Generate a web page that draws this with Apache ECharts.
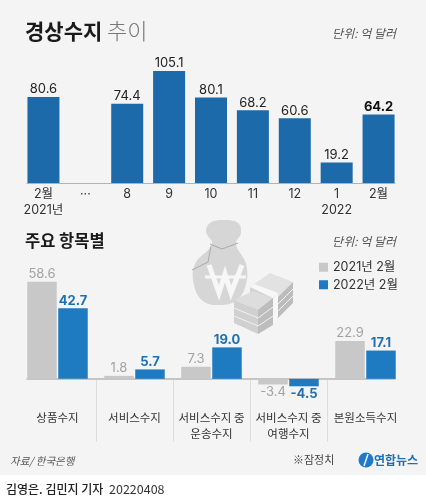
<!DOCTYPE html>
<html>
<head>
<meta charset="utf-8">
<style>
html, body { margin: 0; padding: 0; background: #fff; }
#main { width: 426px; height: 500px; }
</style>
<script src="https://cdn.jsdelivr.net/npm/echarts@6/dist/echarts.min.js"></script>
</head>
<body>
<div id="main"></div>
<script>
var FONT = '"Noto Sans CJK KR", "Noto Sans", sans-serif';
var NUMFONT = 'Inter, "Noto Sans CJK KR", sans-serif';

// 경상수지 추이
var trendMonths = ['2월\n2021년', '···', '8', '9', '10', '11', '12', '1\n2022', '2월'];
var trendValues = [80.6, null, 74.4, 105.1, 80.1, 68.2, 60.6, 19.2, 64.2];

// 주요 항목별
var itemNames = ['상품수지', '서비스수지', '서비스수지 중\n운송수지', '서비스수지 중\n여행수지', '본원소득수지'];
var values2021 = [58.6, 1.8, 7.3, -3.4, 22.9];
var values2022 = [42.7, 5.7, 19.0, -4.5, 17.1];
var seriesNames = ['2021년 2월', '2022년 2월'];

var myChart = echarts.init(document.getElementById('main'), null, { renderer: 'canvas' });

function txt(x, y, text, size, color, weight, extra) {
    var style = { x: x, y: y, text: text, fontSize: size, fontFamily: FONT, fill: color,
        fontWeight: weight || 400, textVerticalAlign: 'middle' };
    for (var k in (extra || {})) style[k] = extra[k];
    return { type: 'text', z: 5, style: style };
}
function poly(points, fill, z) {
    return { type: 'polygon', z: z || 2, shape: { points: points }, style: { fill: fill } };
}
function stripe(points, z) {
    return { type: 'polyline', z: z, shape: { points: points }, style: { fill: null, stroke: '#f2f2f2', lineWidth: 1 } };
}

// 돈주머니 + 지폐 그림 (장식)
var bag = [
    { type: 'polygon', z: 1, shape: { smooth: 0.4, points: [[212, 244], [206, 232], [210, 223], [224, 220], [238, 223], [241, 233], [236, 244], [246, 264], [246, 284], [237, 300], [220, 305], [203, 301], [194, 285], [195, 264]] },
        style: { fill: '#d6d6d6' } },
    { type: 'polyline', z: 2, shape: { points: [[210, 244], [222, 249], [238, 243]] }, style: { fill: null, stroke: '#a9a9a9', lineWidth: 1 } },
    { type: 'polyline', z: 2, shape: { points: [[211, 246], [208, 262], [192, 270]] }, style: { fill: null, stroke: '#a9a9a9', lineWidth: 1 } },
    { type: 'polyline', z: 3, shape: { points: [[209, 265], [219, 293], [225, 274], [231, 293], [242, 265]] }, style: { fill: null, stroke: '#f7f7f7', lineWidth: 5 } },
    { type: 'line', z: 3, shape: { x1: 205, y1: 277, x2: 246, y2: 277 }, style: { stroke: '#f7f7f7', lineWidth: 3 } },
    poly([[250, 287], [270, 273], [293, 282], [278, 297]], '#e2e2e2', 3),
    poly([[278, 297], [293, 282], [293, 303], [278, 318]], '#bcbcbc', 3),
    poly([[250, 287], [278, 297], [278, 318], [250, 310]], '#d4d4d4', 3),
    stripe([[278, 304], [293, 289]], 3), stripe([[278, 311], [293, 296]], 3),
    poly([[234, 300], [253, 291], [273, 298], [258, 310]], '#dddddd', 4),
    poly([[234, 300], [258, 310], [258, 334], [234, 323]], '#d0d0d0', 4),
    poly([[258, 310], [273, 298], [273, 325], [258, 334]], '#bdbdbd', 4),
    stripe([[234, 308], [258, 318], [273, 307]], 4), stripe([[234, 316], [258, 326], [273, 316]], 4),
    poly([[250, 287], [254, 284], [278, 293], [273, 298]], '#f7f7f7', 4),
    poly([[273, 298], [278, 293], [278, 317], [273, 322]], '#f7f7f7', 4)
];

var texts = [
    txt(25, 31, '경상수지', 21, '#1a1a1a', 700),
    txt(107, 31, '추이', 22, '#777777', 300),
    txt(396, 33, '단위: 억 달러', 12, '#555555', 400, { textAlign: 'right', fontStyle: 'italic' }),
    txt(25, 241, '주요 항목별', 16.5, '#1a1a1a', 700),
    txt(396, 241, '단위: 억 달러', 12, '#555555', 400, { textAlign: 'right', fontStyle: 'italic' }),
    txt(10, 461, '자료/ 한국은행', 10.5, '#555555', 400, { fontStyle: 'italic' }),
    txt(293, 460, '※잠정치', 11, '#444444', 400),
    txt(374, 460, '연합뉴스', 12, '#1f6fb5', 700),
    txt(6, 489, '김영은. 김민지 기자', 12, '#222222', 500),
    txt(109, 489, '20220408', 12.5, '#333333', 400)
];

var logo = [
    { type: 'circle', z: 4, shape: { cx: 366, cy: 460, r: 7.5 }, style: { fill: '#1f78c8' } },
    { type: 'line', z: 5, shape: { x1: 368, y1: 454, x2: 364, y2: 466 }, style: { stroke: '#f4f4f4', lineWidth: 1.5 } }
];

var background = [
    { type: 'rect', z: -10, shape: { x: 0, y: 0, width: 426, height: 475 }, style: { fill: '#f4f4f4' } }
];

function baselineAxis(gridIndex, color, width) {
    return {
        type: 'value', gridIndex: gridIndex, min: 0, max: 1,
        axisTick: { show: false }, axisLabel: { show: false }, splitLine: { show: false },
        axisLine: { show: true, lineStyle: { color: color, width: width } }
    };
}
function hiddenY(gridIndex) {
    return { type: 'value', gridIndex: gridIndex, min: 0, max: 1, show: false };
}

var option = {
    animation: false,
    backgroundColor: '#ffffff',
    textStyle: { fontFamily: FONT },
    graphic: { elements: background.concat(bag, logo, texts) },
    legend: {
        orient: 'vertical', left: 314, top: 256,
        itemWidth: 9, itemHeight: 9, itemGap: 5,
        icon: 'rect', selectedMode: false,
        data: seriesNames,
        textStyle: { fontSize: 12.5, color: '#333333', fontFamily: NUMFONT }
    },
    grid: [
        { left: 22.5, width: 377, top: 55, height: 128 },
        { left: 19, width: 385, top: 263, height: 132.4 },
        { left: 19, width: 385, top: 380, height: 61.5 },
        { left: 27, width: 368, top: 55, height: 128 },
        { left: 27, width: 368, top: 263, height: 115.9 }
    ],
    xAxis: [
        {
            type: 'category', gridIndex: 0, data: trendMonths,
            axisTick: { show: false },
            axisLine: { show: false },
            axisLabel: { color: '#333333', fontSize: 12.5, fontFamily: NUMFONT, margin: 3, lineHeight: 16, interval: 0, verticalAlign: 'top' }
        },
        {
            type: 'category', gridIndex: 1, data: itemNames,
            axisTick: { show: false }, axisLine: { show: false }, axisLabel: { show: false }
        },
        {
            type: 'category', gridIndex: 2, data: itemNames, position: 'top',
            axisTick: { show: false }, axisLine: { show: false },
            axisLabel: { inside: true, color: '#333333', fontSize: 11.5, fontFamily: FONT, margin: 30, lineHeight: 16, interval: 0, verticalAlign: 'top' },
            splitLine: { show: true, showMinLine: false, showMaxLine: false, lineStyle: { color: '#dcdcdc', width: 1 } }
        },
        baselineAxis(3, '#a9b4bd', 1),
        baselineAxis(4, '#b5b5b5', 1.5)
    ],
    yAxis: [
        { type: 'value', gridIndex: 0, min: 0, max: 120, show: false },
        { type: 'value', gridIndex: 1, min: -10, max: 70, show: false },
        hiddenY(2), hiddenY(3), hiddenY(4)
    ],
    series: [
        {
            type: 'bar', xAxisIndex: 0, yAxisIndex: 0,
            data: trendValues.map(function (v, i) {
                var last = i === trendValues.length - 1;
                return { value: v, label: { fontWeight: last ? 700 : 400, color: last ? '#111111' : '#222222' } };
            }),
            barWidth: 32,
            itemStyle: { color: '#1c6aaa' },
            label: { show: true, position: 'top', distance: 1, fontSize: 13, fontFamily: NUMFONT, formatter: function (p) { return p.value.toFixed(1); } }
        },
        {
            name: seriesNames[0], type: 'bar', xAxisIndex: 1, yAxisIndex: 1,
            data: values2021.map(function (v) {
                return { value: v, label: { position: v < 0 ? 'bottom' : 'top' } };
            }),
            barWidth: 29.5, barGap: '5%',
            itemStyle: { color: '#c8c8c8' },
            label: { show: true, distance: 1, fontSize: 13, color: '#a3a3a3', fontFamily: NUMFONT, formatter: function (p) { return p.value.toFixed(1); } }
        },
        {
            name: seriesNames[1], type: 'bar', xAxisIndex: 1, yAxisIndex: 1,
            data: values2022.map(function (v) {
                return { value: v, label: { position: v < 0 ? 'bottom' : 'top' } };
            }),
            barWidth: 29.5, barGap: '5%',
            itemStyle: { color: '#1f7bc1' },
            label: { show: true, distance: 1, fontSize: 13, fontWeight: 700, color: '#1f70b0', fontFamily: NUMFONT, formatter: function (p) { return p.value.toFixed(1); } }
        }
    ]
};
myChart.setOption(option);
</script>
</body>
</html>
